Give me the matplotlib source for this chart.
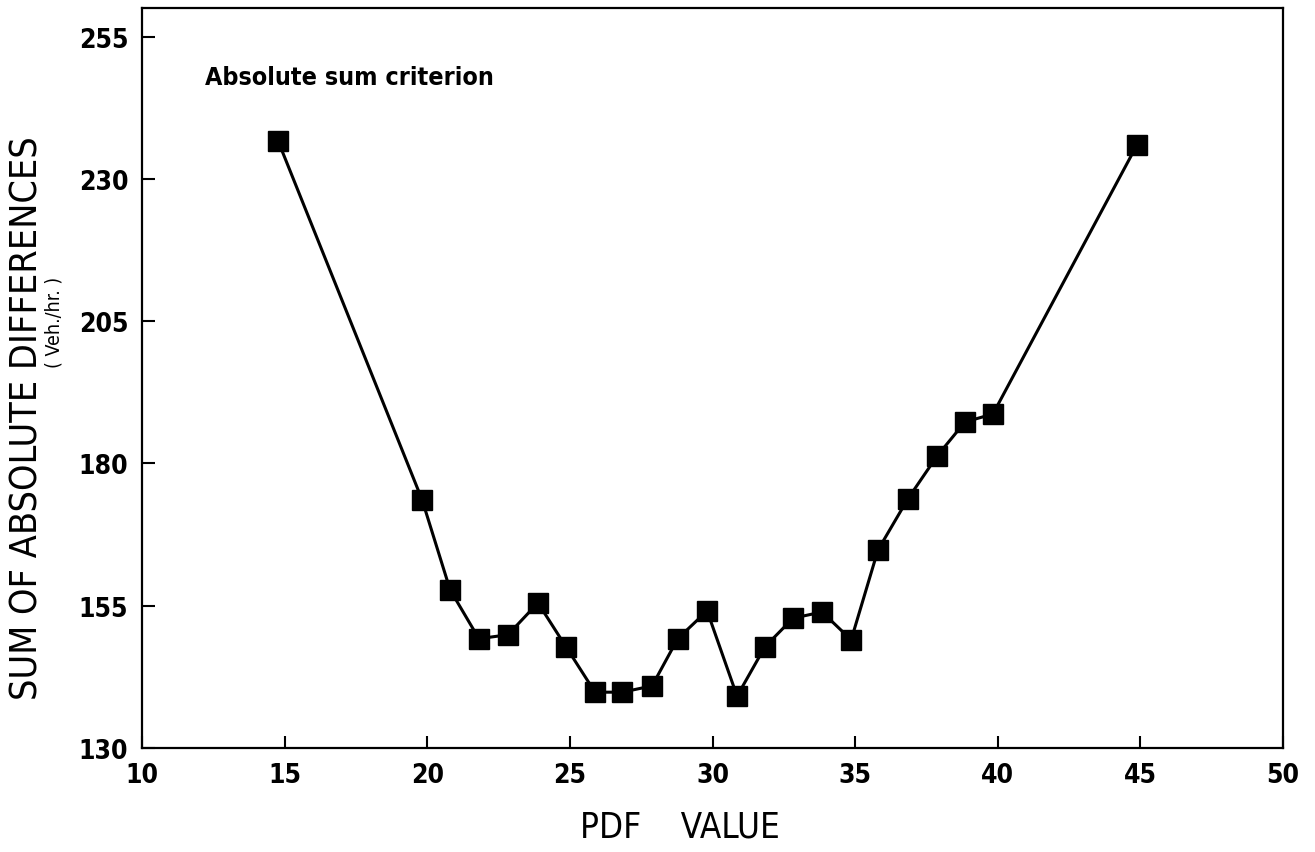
import matplotlib
matplotlib.use("Agg")
import matplotlib.pyplot as plt

# narrow lettering, closer to the stencil font of the scan
plt.rcParams['font.family'] = ['DejaVu Sans']
plt.rcParams['font.stretch'] = 'condensed'

# values
pdf_value = [14.77, 19.82, 20.80, 21.81, 22.83, 23.88, 24.86, 25.88, 26.83, 27.88, 28.78,
             29.81, 30.86, 31.84, 32.82, 33.84, 34.86, 35.80, 36.85, 37.87, 38.85, 39.83, 44.88]
abs_sum = [236.7, 173.6, 157.8, 149.2, 149.9, 155.5, 147.8, 139.8, 139.8, 140.9, 149.2,
           154.1, 139.1, 147.8, 152.8, 153.9, 149.0, 164.8, 173.8, 181.3, 187.3, 188.7, 236.0]

x_ticks = [10, 15, 20, 25, 30, 35, 40, 45, 50]
y_ticks = [130, 155, 180, 205, 230, 255]

fig = plt.figure(figsize=(13.15, 8.53), dpi=100)
ax = fig.add_axes([0.108, 0.122, 0.8677, 0.867])

ax.plot(pdf_value, abs_sum, color='black', linewidth=2.2,
        marker='s', markersize=14.5, markerfacecolor='black', markeredgecolor='black')

ax.set_xlim(10, 50)
ax.set_ylim(130, 260)
ax.set_xticks(x_ticks)
ax.set_yticks(y_ticks)
ax.tick_params(direction='in', length=9, width=1.5, labelsize=19, pad=10)
for lab in ax.get_xticklabels() + ax.get_yticklabels():
    lab.set_fontweight('bold')
for s in ax.spines.values():
    s.set_linewidth(1.6)

ax.text(0.055, 0.907, 'Absolute sum criterion', transform=ax.transAxes,
        fontsize=18, fontweight='bold', ha='left', va='center')

fig.text(0.517, 0.03, 'PDF    VALUE', fontsize=25, ha='center', va='center')
fig.text(0.021, 0.51, 'SUM OF ABSOLUTE DIFFERENCES', fontsize=27, rotation=90,
         ha='center', va='center')
fig.text(0.041, 0.622, '( Veh./hr. )', fontsize=14, rotation=90, ha='center', va='center')

fig.savefig('out.png', dpi=100)
